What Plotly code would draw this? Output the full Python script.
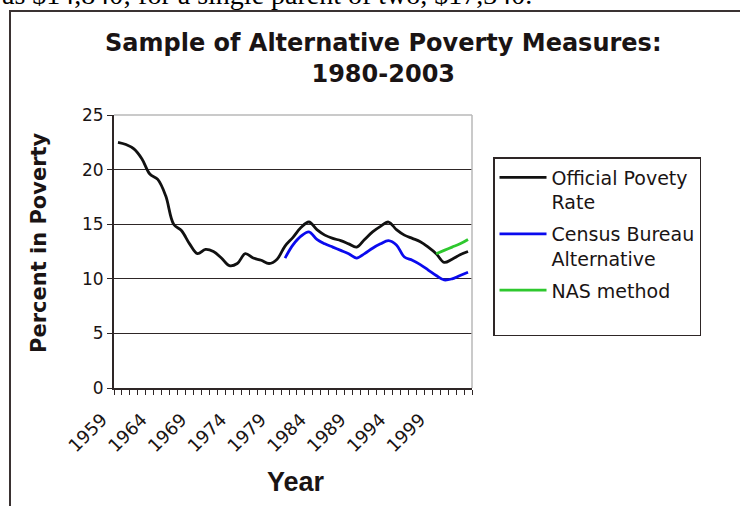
import plotly.graph_objects as go

# ---- data ----
years = list(range(1959, 2004))
official_rate = [22.5, 22.3, 21.9, 21.0, 19.6, 19.1, 17.6, 15.0, 14.4, 13.2,
                 12.3, 12.7, 12.5, 11.9, 11.2, 11.4, 12.3, 11.9, 11.7, 11.4,
                 11.8, 13.0, 13.8, 14.7, 15.2, 14.5, 14.0, 13.7, 13.5, 13.2,
                 12.9, 13.6, 14.3, 14.8, 15.2, 14.5, 14.0, 13.7, 13.4, 12.9,
                 12.3, 11.5, 11.8, 12.2, 12.5]
census_years = list(range(1980, 2004))
census_alt = [11.9, 13.1, 13.9, 14.3, 13.6, 13.2, 12.9, 12.6, 12.3, 11.9,
              12.3, 12.8, 13.2, 13.5, 13.1, 12.0, 11.7, 11.3, 10.8, 10.3,
              9.9, 10.0, 10.3, 10.6]
nas_years = list(range(1999, 2004))
nas_method = [12.3, 12.6, 12.9, 13.2, 13.6]
label_years = list(range(1959, 2000, 5))
y_ticks = [0, 5, 10, 15, 20, 25]

DARK = "#2e2626"
SANS = "DejaVu Sans"

fig = go.Figure()
fig.add_trace(go.Scatter(x=years, y=official_rate, mode="lines",
                         name="Official Povety<br>Rate", legendgroup="a",
                         line=dict(color="#111111", width=2.8, shape="spline", smoothing=1)))
fig.add_trace(go.Scatter(x=census_years, y=census_alt, mode="lines",
                         name="Census Bureau<br>Alternative", legendgroup="b",
                         line=dict(color="#0a0aee", width=2.8, shape="spline", smoothing=1)))
fig.add_trace(go.Scatter(x=nas_years, y=nas_method, mode="lines",
                         name="NAS method<br> ", legendgroup="c",
                         line=dict(color="#2ec82e", width=2.8, shape="spline", smoothing=1)))

boundaries = [y - 0.5 for y in years] + [years[-1] + 0.5]

fig.update_layout(
    width=740, height=506, autosize=False,
    margin=dict(l=114, r=268, t=115, b=118),
    paper_bgcolor="white", plot_bgcolor="white",
    font=dict(family=SANS, color="#1a1414"),
    showlegend=True,
    legend=dict(x=1.0587, y=0.846, xanchor="left", yanchor="top",
                bordercolor=DARK, borderwidth=1.5, bgcolor="white",
                font=dict(family=SANS, size=19, color="#1a1414"),
                valign="top", itemwidth=47, tracegroupgap=4),
    xaxis=dict(range=[boundaries[0], boundaries[-1]],
               tickmode="array", tickvals=label_years,
               ticktext=[str(y) for y in label_years],
               tickangle=-45, ticks="",
               tickfont=dict(family=SANS, size=18, color="#1a1414"),
               ticklabelstandoff=12, ticklabelshift=-16,
               showline=True, linecolor=DARK, linewidth=2,
               showgrid=False, zeroline=False,
               minor=dict(ticks="outside", ticklen=5, tickwidth=1, tickcolor=DARK,
                          tickmode="array", tickvals=boundaries, showgrid=False)),
    yaxis=dict(range=[0, 25], tickmode="array", tickvals=y_ticks,
               ticks="outside", ticklen=5, tickwidth=1, tickcolor=DARK,
               tickfont=dict(family=SANS, size=17, color="#1a1414"),
               showline=True, linecolor=DARK, linewidth=2,
               showgrid=True, gridcolor=DARK, gridwidth=1.2, zeroline=False),
    shapes=[
        # outer chart frame
        dict(type="rect", xref="paper", yref="paper", x0=-0.2905, x1=1.85,
             y0=-0.6, y1=1.381, line=dict(color="#3a3232", width=2), layer="below"),
        # light plot-area border (top & right)
        dict(type="line", xref="paper", yref="paper", x0=0, x1=1, y0=1, y1=1,
             line=dict(color="#b8b8b8", width=1.5), layer="above"),
        dict(type="line", xref="paper", yref="paper", x0=1, x1=1, y0=0, y1=1,
             line=dict(color="#b8b8b8", width=1.5), layer="above"),
    ],
    annotations=[
        dict(text="as $14,840; for a single parent of two, $17,340.",
             xref="paper", yref="paper", x=-0.3184, y=1.442,
             xanchor="left", yanchor="middle", showarrow=False,
             font=dict(family="Liberation Serif", size=28, color="black")),
        dict(text="<b>Sample of Alternative Poverty Measures:<br>1980-2003</b>",
             xref="paper", yref="paper", x=0.7528, y=1.207,
             xanchor="center", yanchor="middle", showarrow=False,
             font=dict(family=SANS, size=24, color="#1a1414")),
        dict(text="<b>Percent in Poverty</b>", textangle=-90,
             xref="paper", yref="paper", x=-0.2095, y=0.5348,
             xanchor="center", yanchor="middle", showarrow=False,
             font=dict(family=SANS, size=21, color="#1a1414")),
        dict(text="<b>Year</b>",
             xref="paper", yref="paper", x=0.508, y=-0.344,
             xanchor="center", yanchor="middle", showarrow=False,
             font=dict(family="Liberation Sans", size=27, color="#1a1414")),
    ],
)

fig.write_html("out.html")
